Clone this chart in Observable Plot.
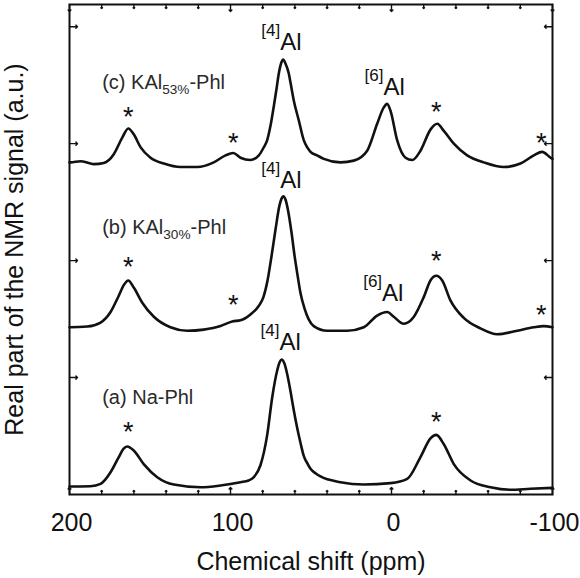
<!DOCTYPE html>
<html>
<head>
<meta charset="utf-8">
<script src="https://cdn.jsdelivr.net/npm/d3@7"></script>
<script src="https://cdn.jsdelivr.net/npm/@observablehq/plot@0.6"></script>
<style>
  html, body { margin: 0; padding: 0; background: #fff; }
  #chart svg { display: block; }
</style>
</head>
<body>
<div id="chart"></div>
<script>
// 27Al MAS NMR spectra, [chemical shift (ppm), real part of signal (a.u., stacked)]
const spectrumA = [
  [200, 0.068], [199.4, 0.068], [187.0, 0.071], [180.7, 0.091], [174.5, 0.19],
  [169.4, 0.32], [166.5, 0.39], [164.2, 0.41], [160.1, 0.376], [153.9, 0.26],
  [145.5, 0.148], [135.2, 0.085], [118.6, 0.062], [106.2, 0.077], [93.8, 0.105],
  [88.8, 0.12], [85.5, 0.148], [81.4, 0.25], [77.2, 0.51], [74.1, 0.83],
  [71.0, 1.06], [69.5, 1.13], [68.3, 1.155], [66.5, 1.12], [64.8, 1.03],
  [62.7, 0.88], [60.7, 0.72], [58.6, 0.57], [56.5, 0.44], [54.5, 0.33],
  [52.0, 0.26], [50.3, 0.22], [47.0, 0.18], [44.1, 0.154], [31.7, 0.105],
  [17.2, 0.085], [0.6, 0.097], [-9.8, 0.134], [-18.0, 0.32], [-24.2, 0.48],
  [-27.8, 0.51], [-32.5, 0.43], [-38.7, 0.26], [-49.1, 0.12], [-61.5, 0.062],
  [-73.9, 0.04], [-86.3, 0.049], [-100, 0.057]
];

const spectrumB = [
  [200, 1.43], [199.4, 1.43], [189.0, 1.436], [180.7, 1.47], [174.5, 1.56],
  [169.4, 1.70], [166.3, 1.79], [163.5, 1.83], [160.1, 1.77], [154.8, 1.64],
  [147.6, 1.52], [137.3, 1.43], [126.9, 1.40], [116.6, 1.41], [106.2, 1.44],
  [98.9, 1.48], [93.8, 1.49], [87.6, 1.54], [82.6, 1.61], [79.5, 1.69],
  [77.0, 1.83], [74.5, 2.04], [72.0, 2.27], [69.6, 2.47], [68.3, 2.53],
  [67.3, 2.55], [65.8, 2.52], [64.0, 2.41], [62.1, 2.24], [60.2, 2.04],
  [58.3, 1.87], [56.5, 1.72], [54.0, 1.59], [51.5, 1.50], [48.3, 1.44],
  [39.9, 1.40], [27.5, 1.40], [17.2, 1.43], [8.9, 1.53], [2.7, 1.56],
  [-1.4, 1.52], [-7.6, 1.46], [-13.9, 1.52], [-20.1, 1.69], [-24.2, 1.83],
  [-27.8, 1.87], [-31.5, 1.83], [-36.6, 1.66], [-44.9, 1.51], [-55.3, 1.42],
  [-65.6, 1.37], [-78.1, 1.40], [-88.4, 1.43], [-94.6, 1.44], [-100, 1.43]
];

const spectrumC = [
  [200, 2.84], [199.4, 2.84], [193.2, 2.85], [188, 2.835], [184.9, 2.825],
  [178.7, 2.835], [172.5, 2.91], [167.3, 3.05], [163.5, 3.13], [160.1, 3.08],
  [155.9, 2.97], [149.7, 2.88], [141.4, 2.83], [131.1, 2.80], [120.7, 2.80],
  [110.4, 2.84], [103.1, 2.90], [98.3, 2.92], [93.8, 2.88], [87.6, 2.86],
  [82.4, 2.90], [79.3, 2.97], [77.2, 3.03], [75.2, 3.15], [73.1, 3.32],
  [71.4, 3.47], [70.0, 3.60], [68.5, 3.69], [67.3, 3.72], [66.0, 3.69],
  [63.8, 3.60], [62.7, 3.52], [60.7, 3.37], [57.6, 3.20], [54.5, 3.03],
  [52.4, 2.97], [50.3, 2.93], [46.2, 2.90], [42.0, 2.87], [31.7, 2.84],
  [23.4, 2.855], [15.1, 2.94], [8.9, 3.17], [4.8, 3.31], [2.7, 3.34],
  [0.6, 3.28], [-3.5, 3.03], [-8.7, 2.88], [-12.9, 2.86], [-18.0, 2.94],
  [-24.2, 3.12], [-28.4, 3.17], [-32.5, 3.11], [-38.7, 3.00], [-47.0, 2.90],
  [-57.3, 2.84], [-69.8, 2.80], [-80.1, 2.83], [-88.4, 2.90], [-93.6, 2.93],
  [-98.8, 2.88], [-100, 2.87]
];

// Sample names; "_{...}" marks a subscript
const sampleLabels = [
  {text: "(a) Na-Phl", ppm: 179.7, signal: 0.77},
  {text: "(b) KAl_{30%}-Phl", ppm: 179.7, signal: 2.23},
  {text: "(c) KAl_{53%}-Phl", ppm: 179.7, signal: 3.47}
];

// Al coordination sites; "^{...}" marks a superscript
const siteLabels = [
  {text: "^{[4]}Al", ppm: 81.4, signal: 1.237},
  {text: "^{[4]}Al", ppm: 80.9, signal: 2.62},
  {text: "^{[4]}Al", ppm: 80.9, signal: 3.80},
  {text: "^{[6]}Al", ppm: 17.6, signal: 1.658},
  {text: "^{[6]}Al", ppm: 16.8, signal: 3.42}
];

// Spinning sidebands, flagged with an asterisk
const sidebands = [
  {ppm: 163.5, signal: 0.59}, {ppm: -27.8, signal: 0.675},
  {ppm: 163.5, signal: 2.0}, {ppm: 98.3, signal: 1.67},
  {ppm: -27.8, signal: 2.05}, {ppm: -93.0, signal: 1.59},
  {ppm: 163.5, signal: 3.276}, {ppm: 98.3, signal: 3.06},
  {ppm: -27.8, signal: 3.32}, {ppm: -93.0, signal: 3.06}
];

const xDomain = [200, -100];
const yDomain = [0, 4.19];
const xTickLabels = [200, 100, 0, -100];
const xMinorTicks = d3.range(180, -100, -20).filter(d => d % 100 !== 0);
const yTicks = [1, 2, 3, 4];

const ink = "#111";
const tickStyle = {stroke: ink, strokeWidth: 1.4, anchor: "start"};

const chart = Plot.plot({
  width: 580,
  height: 578,
  marginLeft: 69,
  marginRight: 28,
  marginTop: 4,
  marginBottom: 84,
  style: {fontFamily: "'Liberation Sans', Arial, Helvetica, sans-serif", background: "#fff", color: ink},
  x: {domain: xDomain, axis: null},
  y: {domain: yDomain, axis: null},
  marks: [
    // inward ticks on all four sides
    Plot.vector(xTickLabels, {x: d => d, y: yDomain[0], length: 7, rotate: 0, ...tickStyle}),
    Plot.vector(xMinorTicks, {x: d => d, y: yDomain[0], length: 4, rotate: 0, ...tickStyle}),
    Plot.vector(xTickLabels, {x: d => d, y: yDomain[1], length: 7, rotate: 180, ...tickStyle}),
    Plot.vector(xMinorTicks, {x: d => d, y: yDomain[1], length: 4, rotate: 180, ...tickStyle}),
    Plot.vector(yTicks, {x: xDomain[0], y: d => d, length: 8, rotate: 90, ...tickStyle}),
    Plot.vector(yTicks, {x: xDomain[1], y: d => d, length: 8, rotate: -90, ...tickStyle}),

    // spectra
    ...[spectrumA, spectrumB, spectrumC].map(s =>
      Plot.line(s, {x: d => d[0], y: d => d[1], curve: "monotone-x", stroke: ink, strokeWidth: 2.6, strokeLinejoin: "round"})
    ),

    Plot.frame({stroke: ink, strokeWidth: 2}),

    // annotations
    Plot.text(sidebands, {x: "ppm", y: "signal", text: () => "*", fontSize: 27, lineAnchor: "bottom", dy: 15, fill: ink}),
    Plot.text(siteLabels, {x: "ppm", y: "signal", text: "text", fontSize: 24, textAnchor: "start", lineAnchor: "bottom", fill: ink}),
    Plot.text(sampleLabels, {x: "ppm", y: "signal", text: "text", fontSize: 20, textAnchor: "start", lineAnchor: "bottom", fill: "#2a2a2a"}),

    // axis tick labels and titles
    Plot.text(xTickLabels, {x: d => d, text: d => String(d), frameAnchor: "bottom", lineAnchor: "bottom", dy: 36, dx: 2, fontSize: 25, fill: ink}),
    Plot.text(["Chemical shift (ppm)"], {frameAnchor: "bottom", lineAnchor: "bottom", dy: 75, fontSize: 25, fill: ink}),
    Plot.text(["Real part of the NMR signal (a.u.)"], {frameAnchor: "left", textAnchor: "middle", rotate: -90, lineAnchor: "bottom", dx: -47, fontSize: 25, fill: ink})
  ]
});

document.getElementById("chart").append(chart);

// Turn "^{...}" / "_{...}" markup into superscript / subscript tspans
d3.select(chart).selectAll("text").each(function () {
  const s = this.textContent;
  if (!/[_^]\{/.test(s)) return;
  const base = parseFloat(getComputedStyle(this).fontSize) || 16;
  const parts = s.split(/([_^]\{[^}]*\})/).filter(p => p);
  this.textContent = "";
  let shift = 0;
  for (const p of parts) {
    const m = p.match(/^([_^])\{(.*)\}$/);
    const t = document.createElementNS("http://www.w3.org/2000/svg", "tspan");
    let target = 0;
    if (m) {
      const sup = m[1] === "^";
      target = sup ? -0.58 * base : 0.27 * base;
      t.setAttribute("font-size", (sup ? 0.71 : 0.68) * base);
      t.textContent = m[2];
    } else {
      t.textContent = p;
    }
    if (target !== shift) t.setAttribute("dy", target - shift);
    shift = target;
    this.appendChild(t);
  }
});
</script>
</body>
</html>
